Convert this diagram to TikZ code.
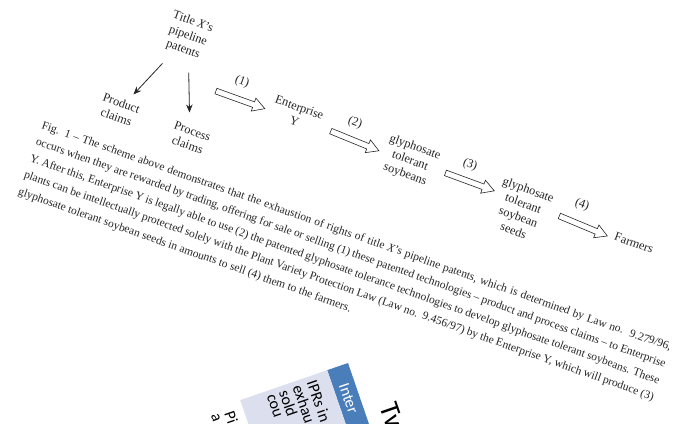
\documentclass[tikz,border=0pt]{standalone}
\usepackage{fontspec}
\setmainfont{Liberation Serif}
\newfontfamily\slidefont{Carlito}
\usetikzlibrary{shapes.arrows,arrows.meta,calc}
\definecolor{ink}{HTML}{262626}
\definecolor{hdrblue}{HTML}{4A7EBB}
\definecolor{rowlav}{HTML}{DCE0EE}
\begin{document}
\begin{tikzpicture}[x=1pt,y=-1pt,
  dnode/.style={font=\fontsize{12.3}{14.5}\selectfont, text=ink, align=center, rotate=-20, inner sep=1pt},
  numlabel/.style={font=\fontsize{12.3}{14}\selectfont, text=ink, rotate=-20, inner sep=0pt},
  thinarrow/.style={draw=ink, line width=0.8pt, -{Stealth[length=8pt,width=6.5pt]}},
  harrow/.style={single arrow, draw=ink, fill=white, line width=0.6pt, minimum height=52pt,
    single arrow head extend=4pt, single arrow tip angle=60, inner xsep=0pt, inner ysep=2.6pt,
    sloped, anchor=center},
  capline/.style={anchor=base west, inner sep=0pt, font=\fontsize{11.5}{12}\selectfont, text=ink},
  slidetext/.style={anchor=west, inner sep=0pt, font=\slidefont\fontsize{16}{16}\selectfont, text=black}]
\useasboundingbox (0,0) rectangle (677,423);
\clip (0,0) rectangle (677,423);
\fill[white] (0,0) rectangle (677,423);

% ---- diagram ----
\node[dnode] (title) at (188,36) {Title \textit{X}'s\\pipeline\\patents};
\node[dnode] (prod) at (119,110) {Product\\claims};
\node[dnode] (proc) at (190,138) {Process\\claims};
\node[dnode] (ent) at (297,114) {Enterprise\\Y};
\node[dnode] (gts) at (410,161) {glyphosate\\tolerant\\soybeans};
\node[dnode] (seeds) at (521,210) {glyphosate\\tolerant\\soybean\\seeds};
\node[dnode] (farm) at (634,243) {Farmers};

\draw[thinarrow] ($(title)!0.37!(prod)$) -- ($(title)!0.79!(prod)$);
\draw[thinarrow] ($(title)!0.36!(proc)$) -- ($(title)!0.75!(proc)$);

\coordinate (h1s) at (213,90);  \coordinate (h1e) at (263,108);
\coordinate (h2s) at (328,130); \coordinate (h2e) at (377,150);
\coordinate (h3s) at (443,172); \coordinate (h3e) at (492,190);
\coordinate (h4s) at (557,215); \coordinate (h4e) at (605,235);
\path (h1s) -- node[harrow] (ha1) {} (h1e);
\path (h2s) -- node[harrow] (ha2) {} (h2e);
\path (h3s) -- node[harrow] (ha3) {} (h3e);
\path (h4s) -- node[harrow] (ha4) {} (h4e);
\node[numlabel] (l1) at (242,82) {(1)};
\node[numlabel] (l2) at (355,123) {(2)};
\node[numlabel] (l3) at (470,165) {(3)};
\node[numlabel] (l4) at (582,205) {(4)};

% ---- caption ----
\begin{scope}[shift={(41,128)}, rotate=-19.5, transform shape]
\node[capline] (c1) at (0,0) {\makebox[667pt][s]{Fig. 1 – The scheme above demonstrates that the exhaustion of rights of title \textit{X}'s pipeline patents, which is determined by Law no.\ \ 9.279/96,}};
\node[capline] (c2) at (0,17.6) {\makebox[667pt][s]{occurs when they are rewarded by trading, offering for sale or selling (1) these patented technologies – product and process claims – to Enterprise}};
\node[capline] (c3) at (0,35.2) {\makebox[667pt][s]{Y. After this, Enterprise Y is legally able to use (2) the patented glyphosate tolerance technologies to develop glyphosate tolerant soybeans. These}};
\node[capline] (c4) at (0,52.8) {\makebox[667pt][s]{plants can be intellectually protected solely with the Plant Variety Protection Law (Law no.\ \ 9.456/97) by the Enterprise Y, which will produce (3)}};
\node[capline] (c5) at (0,70.4) {glyphosate tolerant soybean seeds in amounts to sell (4) them to the farmers.};
\end{scope}

% ---- slide fragment ----
\begin{scope}[shift={(348,363)}, rotate=-71, transform shape]
\fill[hdrblue] (0,0) rectangle (160,22);
\fill[rowlav] (0,22) rectangle (160,114);
\node[slidetext, text=white] (hdr) at (18,11) {Inter};
\node[slidetext] (r1) at (5,40) {IPRs in};
\node[slidetext] (r2) at (5,55) {exhau};
\node[slidetext] (r3) at (5,69.5) {sold};
\node[slidetext] (r4) at (5,84) {cou};
\node[slidetext] (r5) at (7,128) {Pi};
\node[slidetext] (r6) at (5,143) {a};
\node[anchor=west, inner sep=0pt, font=\slidefont\fontsize{28}{30}\selectfont] (tw) at (51,-25) {Tw};
\end{scope}
\end{tikzpicture}
\end{document}
